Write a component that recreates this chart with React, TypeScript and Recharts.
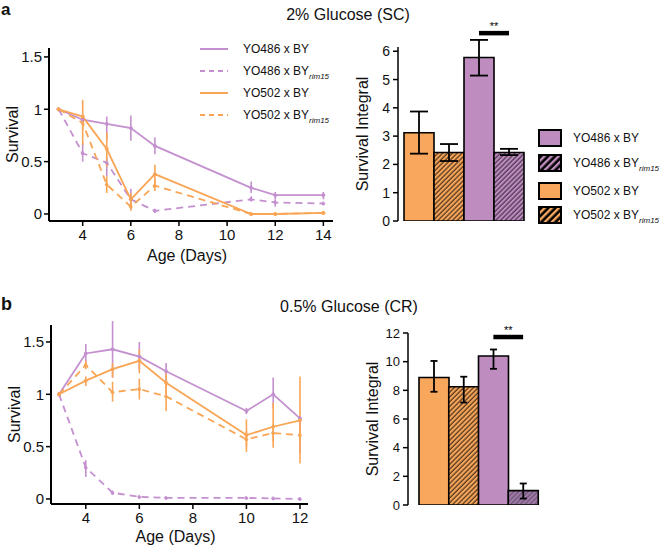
import React from 'react';
import { LineChart, Line, BarChart, Bar, Cell, XAxis, YAxis, ErrorBar, ReferenceLine } from 'recharts';

const FONT = '"Liberation Sans", Arial, Helvetica, sans-serif';
const PURPLE = '#C490CF';
const ORANGE = '#F9A556';
const PURPLE_BAR = '#BE8CBF';
const ORANGE_BAR = '#F8A75C';

// 2% glucose (SC) survival curves
const daysSC = [3, 4, 5, 6, 7, 11, 12, 14];
const sc486 = [1, 0.9, 0.86, 0.82, 0.65, 0.25, 0.18, 0.18];
const sc486Lo = [1, 0.85, 0.71, 0.7, 0.57, 0.2, 0.14, 0.14];
const sc486Hi = [1, 0.95, 0.93, 0.94, 0.73, 0.31, 0.21, 0.21];
const sc486rim = [1, 0.58, 0.49, 0.14, 0.03, 0.14, 0.11, 0.1];
const sc486rimLo = [1, 0.5, 0.36, 0.04, 0.01, 0.12, 0.07, 0.09];
const sc486rimHi = [1, 0.68, 0.55, 0.24, 0.05, 0.17, 0.14, 0.11];
const sc502 = [1, 0.93, 0.62, 0.14, 0.38, 0, 0, 0.01];
const sc502Lo = [1, 0.66, 0.45, 0.08, 0.28, 0, 0, 0.01];
const sc502Hi = [1, 1.09, 0.78, 0.2, 0.47, 0, 0, 0.01];
const sc502rim = [1, 0.87, 0.28, 0.07, 0.27, 0, 0, 0.01];
const sc502rimLo = [1, 0.8, 0.2, 0.03, 0.22, 0, 0, 0.01];
const sc502rimHi = [1, 0.94, 0.36, 0.12, 0.33, 0, 0, 0.01];

// 0.5% glucose (CR) survival curves
const daysCR = [3, 4, 5, 6, 7, 10, 11, 12];
const cr486 = [1, 1.39, 1.43, 1.36, 1.22, 0.84, 1.0, 0.77];
const cr486Lo = [1, 1.28, 1.16, 1.24, 1.12, 0.81, 0.87, 0.44];
const cr486Hi = [1, 1.48, 1.7, 1.5, 1.3, 0.87, 1.16, 0.79];
const cr486rim = [1, 0.3, 0.06, 0.02, 0.01, 0.01, 0.005, 0];
const cr486rimLo = [1, 0.21, 0.04, 0.01, 0.005, 0.005, 0, 0];
const cr486rimHi = [1, 0.37, 0.08, 0.03, 0.015, 0.015, 0.01, 0];
const cr502 = [1, 1.13, 1.24, 1.32, 1.11, 0.61, 0.69, 0.75];
const cr502Lo = [1, 1.08, 1.16, 1.2, 1.0, 0.45, 0.49, 0.34];
const cr502Hi = [1, 1.17, 1.3, 1.43, 1.2, 0.76, 0.92, 1.17];
const cr502rim = [1, 1.28, 1.02, 1.05, 0.98, 0.57, 0.63, 0.61];
const cr502rimLo = [1, 1.24, 0.93, 0.95, 0.84, 0.5, 0.55, 0.55];
const cr502rimHi = [1, 1.32, 1.12, 1.15, 1.1, 0.65, 0.7, 0.68];

// survival integrals
const strains = ['YO502 x BY', 'YO502 x BY rim15', 'YO486 x BY', 'YO486 x BY rim15'];
const intSC = [3.12, 2.42, 5.78, 2.42];
const intSCLo = [2.38, 2.12, 5.14, 2.33];
const intSCHi = [3.87, 2.72, 6.4, 2.55];
const intCR = [8.9, 8.25, 10.4, 1.0];
const intCRLo = [7.9, 7.15, 9.5, 0.45];
const intCRHi = [10.05, 8.95, 10.85, 1.5];

const lineSeries = [
  { key: 'y486', color: PURPLE, dashed: false },
  { key: 'y486rim', color: PURPLE, dashed: true },
  { key: 'y502', color: ORANGE, dashed: false },
  { key: 'y502rim', color: ORANGE, dashed: true },
];

const buildRows = (days: number[], sets: { key: string; v: number[]; lo: number[]; hi: number[] }[]) =>
  days.map((d, i) => {
    const row: any = { day: d };
    sets.forEach((s) => {
      row[s.key] = s.v[i];
      row[s.key + 'Err'] = [s.v[i] - s.lo[i], s.hi[i] - s.v[i]];
    });
    return row;
  });

const rowsSC = buildRows(daysSC, [
  { key: 'y486', v: sc486, lo: sc486Lo, hi: sc486Hi },
  { key: 'y486rim', v: sc486rim, lo: sc486rimLo, hi: sc486rimHi },
  { key: 'y502', v: sc502, lo: sc502Lo, hi: sc502Hi },
  { key: 'y502rim', v: sc502rim, lo: sc502rimLo, hi: sc502rimHi },
]);

const rowsCR = buildRows(daysCR, [
  { key: 'y486', v: cr486, lo: cr486Lo, hi: cr486Hi },
  { key: 'y486rim', v: cr486rim, lo: cr486rimLo, hi: cr486rimHi },
  { key: 'y502', v: cr502, lo: cr502Lo, hi: cr502Hi },
  { key: 'y502rim', v: cr502rim, lo: cr502rimLo, hi: cr502rimHi },
]);

const barRows = (v: number[], lo: number[], hi: number[]) =>
  strains.map((s, i) => ({ name: s, value: v[i], err: [v[i] - lo[i], hi[i] - v[i]] }));

const barsSC = barRows(intSC, intSCLo, intSCHi);
const barsCR = barRows(intCR, intCRLo, intCRHi);

const axisStyle = { stroke: '#000', strokeWidth: 2 };
const tickLineStyle = { stroke: '#000', strokeWidth: 1.5 };

const SurvivalPlot = ({ rows, width, height, margin, xDomain, xTicks, yDomain, labelOffset }: any) => (
  <LineChart width={width} height={height} data={rows} margin={margin}>
    <XAxis
      type="number"
      dataKey="day"
      domain={xDomain}
      ticks={xTicks}
      allowDataOverflow
      height={30}
      tickSize={5}
      tickMargin={3}
      axisLine={axisStyle}
      tickLine={tickLineStyle}
      tick={{ fill: '#111', fontSize: 15 }}
      label={{ value: 'Age (Days)', position: 'bottom', offset: labelOffset, fill: '#111', fontSize: 16, dx: -4 }}
    />
    <YAxis
      type="number"
      domain={yDomain}
      ticks={[0, 0.5, 1, 1.5]}
      allowDataOverflow
      width={40}
      tickSize={5}
      tickMargin={2}
      axisLine={axisStyle}
      tickLine={tickLineStyle}
      tick={{ fill: '#111', fontSize: 15 }}
      label={{ value: 'Survival', angle: -90, position: 'insideLeft', offset: 3, fill: '#111', fontSize: 16, style: { textAnchor: 'middle' } }}
    />
    {lineSeries.map((s) => (
      <Line
        key={s.key}
        type="linear"
        dataKey={s.key}
        stroke={s.color}
        strokeWidth={1.8}
        strokeDasharray={s.dashed ? '7 5' : undefined}
        dot={{ r: 1.5, fill: s.color, stroke: s.color, strokeWidth: 1 }}
        isAnimationActive={false}
      >
        <ErrorBar dataKey={s.key + 'Err'} direction="y" width={0} stroke={s.color} strokeWidth={1.6} />
      </Line>
    ))}
  </LineChart>
);

const HatchDefs = ({ id, purpleHatch }: { id: string; purpleHatch: string }) => (
  <defs>
    <pattern id={id + 'o'} patternUnits="userSpaceOnUse" width="3.4" height="3.4" patternTransform="rotate(45)">
      <rect width="3.4" height="3.4" fill={ORANGE_BAR} />
      <line x1="1" y1="0" x2="1" y2="3.4" stroke="#3a2410" strokeWidth="1.1" />
    </pattern>
    <pattern id={id + 'p'} patternUnits="userSpaceOnUse" width="3.4" height="3.4" patternTransform="rotate(45)">
      <rect width="3.4" height="3.4" fill={purpleHatch} />
      <line x1="1" y1="0" x2="1" y2="3.4" stroke="#3c2a40" strokeWidth={purpleHatch === PURPLE_BAR ? 1.1 : 0.6} />
    </pattern>
  </defs>
);

const IntegralPlot = ({ rows, id, width, height, margin, yDomain, yTicks, padLeft, sigY, capWidth, tickSize, purpleHatch }: any) => {
  const fills = [ORANGE_BAR, `url(#${id}o)`, PURPLE_BAR, `url(#${id}p)`];
  return (
    <BarChart width={width} height={height} data={rows} margin={margin} barCategoryGap={0}>
      <HatchDefs id={id} purpleHatch={purpleHatch} />
      <XAxis dataKey="name" hide padding={{ left: padLeft, right: 0 }} />
      <YAxis
        type="number"
        domain={yDomain}
        ticks={yTicks}
        allowDataOverflow
        width={40}
        tickSize={5}
        tickMargin={3}
        axisLine={{ stroke: '#000', strokeWidth: 1.5 }}
        tickLine={tickLineStyle}
        tick={{ fill: '#111', fontSize: tickSize }}
        label={{ value: 'Survival Integral', angle: -90, position: 'insideLeft', offset: 4, fill: '#111', fontSize: 16, style: { textAnchor: 'middle' } }}
      />
      <Bar dataKey="value" stroke="#000" strokeWidth={1.6} isAnimationActive={false}>
        {rows.map((r: any, i: number) => (
          <Cell key={r.name} fill={fills[i]} />
        ))}
        <ErrorBar dataKey="err" direction="y" width={capWidth} stroke="#000" strokeWidth={1.8} />
      </Bar>
      <ReferenceLine
        segment={[{ x: strains[2], y: sigY }, { x: strains[3], y: sigY }]}
        stroke="#000"
        strokeWidth={4.5}
        ifOverflow="visible"
        label={{ value: '**', position: 'top', offset: 3, fill: '#000', stroke: 'none', fontSize: 11, style: { fill: '#000' } }}
      />
    </BarChart>
  );
};

const Rim = () => (
  <span style={{ fontStyle: 'italic', fontSize: 8, position: 'relative', top: 4 }}>rim15</span>
);

const legendNames = [
  { base: 'YO486 x BY', rim: false, color: PURPLE, bar: PURPLE_BAR },
  { base: 'YO486 x BY', rim: true, color: PURPLE, bar: PURPLE_BAR },
  { base: 'YO502 x BY', rim: false, color: ORANGE, bar: ORANGE_BAR },
  { base: 'YO502 x BY', rim: true, color: ORANGE, bar: ORANGE_BAR },
];

const LineLegend = () => (
  <>
    {legendNames.map((l, i) => (
      <div key={i} style={{ position: 'absolute', left: 200, top: 49 + i * 22 - 8, height: 16, display: 'flex', alignItems: 'center', fontSize: 12, whiteSpace: 'nowrap' }}>
        <svg width={28} height={4} style={{ display: 'block' }}>
          <line x1={0} y1={2} x2={28} y2={2} stroke={l.color} strokeWidth={2} strokeDasharray={l.rim ? '5 4' : undefined} />
        </svg>
        <span style={{ marginLeft: 15 }}>
          {l.base}
          {l.rim && <Rim />}
        </span>
      </div>
    ))}
  </>
);

const BarLegend = () => {
  const rows = [138, 163, 191, 215];
  return (
    <>
      {legendNames.map((l, i) => (
        <div key={i} style={{ position: 'absolute', left: 538, top: rows[i] - 9, height: 18, display: 'flex', alignItems: 'center', fontSize: 12, whiteSpace: 'nowrap' }}>
          <svg width={24} height={18} style={{ display: 'block' }}>
            <defs>
              <pattern id={'lg' + i} patternUnits="userSpaceOnUse" width="5" height="5" patternTransform="rotate(45)">
                <rect width="5" height="5" fill="#000" />
                <rect x="0" y="0" width="2.4" height="5" fill={l.bar} />
              </pattern>
            </defs>
            <rect x={1} y={1} width={22} height={16} fill={l.rim ? `url(#lg${i})` : l.bar} stroke="#000" strokeWidth={2} />
          </svg>
          <span style={{ marginLeft: 11 }}>
            {l.base}
            {l.rim && <Rim />}
          </span>
        </div>
      ))}
    </>
  );
};

const App = () => (
  <div style={{ position: 'absolute', left: 0, top: 0, width: 660, height: 552, background: '#fff', fontFamily: FONT, color: '#111', overflow: 'hidden' }}>
    <div style={{ position: 'absolute', left: 1, top: 0, fontSize: 17, lineHeight: 'normal', fontWeight: 'bold' }}>a</div>
    <div style={{ position: 'absolute', left: 1, top: 295, fontSize: 18, lineHeight: '18px', fontWeight: 'bold' }}>b</div>
    <div style={{ position: 'absolute', left: 248, width: 200, top: 7, fontSize: 16, lineHeight: '16px', textAlign: 'center' }}>2% Glucose (SC)</div>
    <div style={{ position: 'absolute', left: 249, width: 200, top: 299, fontSize: 16, lineHeight: '16px', textAlign: 'center' }}>0.5% Glucose (CR)</div>

    <div style={{ position: 'absolute', left: 0, top: 0 }}>
      <SurvivalPlot
        rows={rowsSC}
        width={345}
        height={270}
        margin={{ top: 48, right: 12, bottom: 19, left: 9 }}
        xDomain={[2.6, 14.4]}
        xTicks={[4, 6, 8, 10, 12, 14]}
        yDomain={[-0.067, 1.585]}
        labelOffset={-1}
      />
    </div>
    <div style={{ position: 'absolute', left: 0, top: 270 }}>
      <SurvivalPlot
        rows={rowsCR}
        width={345}
        height={282}
        margin={{ top: 55, right: 37, bottom: 18, left: 11 }}
        xDomain={[2.7, 12.3]}
        xTicks={[4, 6, 8, 10, 12]}
        yDomain={[-0.048, 1.662]}
        labelOffset={-3}
      />
    </div>
    <div style={{ position: 'absolute', left: 330, top: 0 }}>
      <IntegralPlot
        rows={barsSC}
        id="hsc"
        width={330}
        height={260}
        margin={{ top: 47, right: 136, bottom: 39, left: 28 }}
        yDomain={[0, 6.15]}
        yTicks={[0, 1, 2, 3, 4, 5, 6]}
        padLeft={6}
        sigY={6.64}
        capWidth={9}
        tickSize={14}
        purpleHatch={PURPLE_BAR}
      />
    </div>
    <div style={{ position: 'absolute', left: 330, top: 270 }}>
      <IntegralPlot
        rows={barsCR}
        id="hcr"
        width={330}
        height={282}
        margin={{ top: 63, right: 122, bottom: 47, left: 38 }}
        yDomain={[0, 12]}
        yTicks={[0, 2, 4, 6, 8, 10, 12]}
        padLeft={11}
        sigY={11.72}
        capWidth={3.5}
        tickSize={13}
        purpleHatch="#9E7AA6"
      />
    </div>
    <LineLegend />
    <BarLegend />
  </div>
);

export default App;
